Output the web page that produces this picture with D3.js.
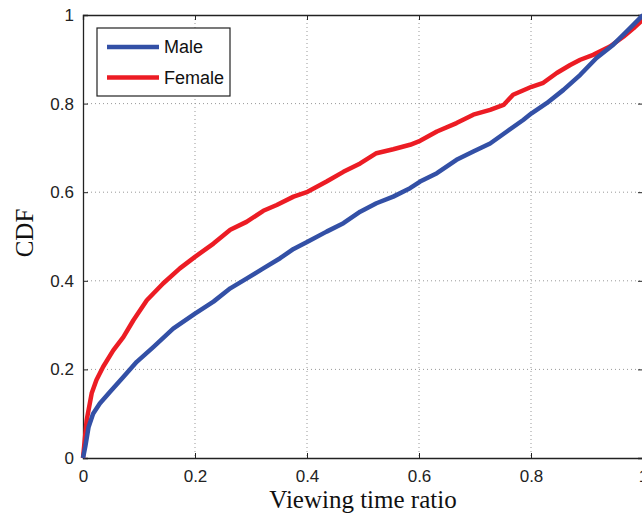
<!DOCTYPE html>
<html lang="en">
<head>
<meta charset="UTF-8">
<title>CDF of viewing time ratio</title>
<style>
  body { margin: 0; background: #fff; }
  svg { display: block; }
  .tick text { font-family: "Liberation Sans", Arial, sans-serif; font-size: 17px; fill: #222; }
  .axis-title { font-family: "Liberation Serif", "Times New Roman", serif; font-size: 25px; fill: #111; }
  .legend text { font-family: "Liberation Sans", Arial, sans-serif; font-size: 18px; fill: #111; }
</style>
</head>
<body>
<div id="chart"></div>
<script src="https://d3js.org/d3.v7.min.js"></script>
<script>
// values
const xTicks = [0, 0.2, 0.4, 0.6, 0.8, 1];
const yTicks = [0, 0.2, 0.4, 0.6, 0.8, 1];

const maleX = [0, 0.004, 0.01, 0.018, 0.03, 0.048, 0.072, 0.096, 0.126, 0.161, 0.2, 0.233, 0.263, 0.292, 0.322, 0.352, 0.376, 0.401, 0.435, 0.465, 0.495, 0.524, 0.554, 0.584, 0.602, 0.632, 0.667, 0.697, 0.727, 0.757, 0.786, 0.801, 0.828, 0.858, 0.888, 0.917, 0.947, 0.971, 1.0];
const maleY = [0, 0.025, 0.07, 0.1, 0.123, 0.149, 0.183, 0.217, 0.251, 0.292, 0.326, 0.353, 0.383, 0.405, 0.428, 0.451, 0.472, 0.488, 0.511, 0.53, 0.556, 0.575, 0.59, 0.609, 0.624, 0.643, 0.673, 0.692, 0.71, 0.737, 0.763, 0.778, 0.801, 0.831, 0.865, 0.903, 0.933, 0.963, 1.0];

const femaleX = [0, 0.0065, 0.0155, 0.024, 0.036, 0.054, 0.072, 0.09, 0.114, 0.143, 0.173, 0.2, 0.233, 0.263, 0.292, 0.322, 0.346, 0.376, 0.401, 0.435, 0.465, 0.495, 0.524, 0.554, 0.584, 0.602, 0.632, 0.667, 0.697, 0.727, 0.751, 0.768, 0.801, 0.822, 0.846, 0.87, 0.888, 0.911, 0.941, 0.965, 0.983, 1.0];
const femaleY = [0, 0.085, 0.146, 0.176, 0.206, 0.243, 0.273, 0.311, 0.356, 0.394, 0.428, 0.454, 0.484, 0.515, 0.533, 0.558, 0.571, 0.59, 0.601, 0.624, 0.646, 0.665, 0.688, 0.697, 0.707, 0.716, 0.737, 0.756, 0.775, 0.786, 0.797, 0.82, 0.838, 0.847, 0.869, 0.887, 0.899, 0.91, 0.929, 0.951, 0.97, 0.99];

const series = [
  { name: "Female", xs: femaleX, ys: femaleY, color: "#ec1c24" },
  { name: "Male", xs: maleX, ys: maleY, color: "#3350a6" }
];
const legendOrder = ["Male", "Female"];

const W = 642, H = 514;
const margin = { top: 15, right: -1, bottom: 56, left: 83 };
const width = W - margin.left - margin.right,
      height = H - margin.top - margin.bottom;

const svg = d3.select("#chart").append("svg")
    .attr("width", W)
    .attr("height", H);

const g = svg.append("g")
    .attr("transform", `translate(${margin.left},${margin.top})`);

const x = d3.scaleLinear().domain([0, 1]).range([0, width]);
const y = d3.scaleLinear().domain([0, 1]).range([height, 0]);

// dotted grid
g.append("g").selectAll("line")
    .data(xTicks.filter(d => d > 0 && d < 1))
    .join("line")
    .attr("x1", d => x(d)).attr("x2", d => x(d))
    .attr("y1", 0).attr("y2", height)
    .attr("stroke", "#999").attr("stroke-width", 1)
    .attr("stroke-dasharray", "1,3");
g.append("g").selectAll("line")
    .data(yTicks.filter(d => d > 0 && d < 1))
    .join("line")
    .attr("y1", d => y(d)).attr("y2", d => y(d))
    .attr("x1", 0).attr("x2", width)
    .attr("stroke", "#999").attr("stroke-width", 1)
    .attr("stroke-dasharray", "1,3");

// axes with inward ticks
const xAxis = g.append("g")
    .attr("transform", `translate(0,${height})`)
    .call(d3.axisBottom(x).tickValues(xTicks).tickFormat(d3.format("")).tickSize(-5).tickPadding(12));
const yAxis = g.append("g")
    .call(d3.axisLeft(y).tickValues(yTicks).tickFormat(d3.format("")).tickSize(-5).tickPadding(9));
g.append("g")
    .call(d3.axisTop(x).tickValues(xTicks).tickFormat("").tickSize(-5));
g.append("g")
    .attr("transform", `translate(${width},0)`)
    .call(d3.axisRight(y).tickValues(yTicks).tickFormat("").tickSize(-5));

g.selectAll(".domain").attr("stroke", "#222").attr("stroke-width", 1.3);
g.selectAll(".tick line").attr("stroke", "#222");

// curves
const line = d3.line()
    .x(d => x(d[0]))
    .y(d => y(d[1]));

series.forEach(s => {
  const pts = s.xs.map((v, i) => [v, s.ys[i]]);
  g.append("path")
    .datum(pts)
    .attr("fill", "none")
    .attr("stroke", s.color)
    .attr("stroke-width", 4.5)
    .attr("stroke-linejoin", "round")
    .attr("d", line);
});

// legend
const legend = g.append("g").attr("class", "legend")
    .attr("transform", "translate(14,13)");
legend.append("rect")
    .attr("width", 133).attr("height", 68)
    .attr("fill", "#fff").attr("stroke", "#222").attr("stroke-width", 1.2);
legendOrder.forEach((name, i) => {
  const s = series.find(d => d.name === name);
  const ly = 19 + i * 30.5;
  legend.append("line")
    .attr("x1", 10).attr("x2", 62)
    .attr("y1", ly).attr("y2", ly)
    .attr("stroke", s.color).attr("stroke-width", 4.5);
  legend.append("text")
    .attr("x", 67).attr("y", ly)
    .attr("dy", "0.35em")
    .text(name);
});

// axis titles
svg.append("text").attr("class", "axis-title")
    .attr("x", margin.left + width / 2).attr("y", 508)
    .attr("text-anchor", "middle")
    .text("Viewing time ratio");
svg.append("text").attr("class", "axis-title")
    .attr("transform", "translate(33,233) rotate(-90)")
    .attr("text-anchor", "middle")
    .text("CDF");
</script>
</body>
</html>
